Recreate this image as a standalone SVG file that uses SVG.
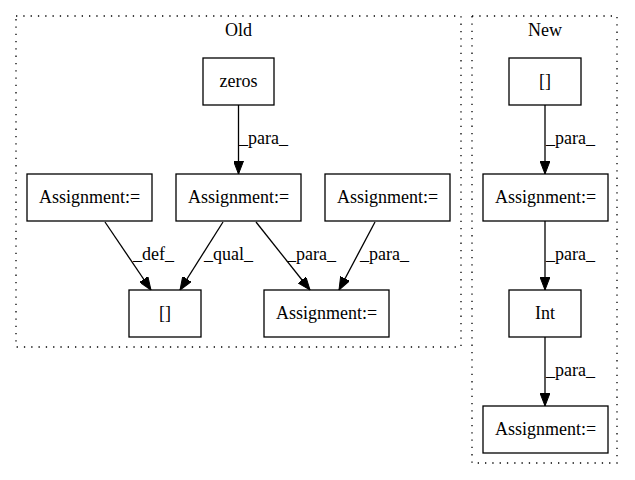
<svg xmlns="http://www.w3.org/2000/svg" width="635" height="480" viewBox="0 0 635 480">
<defs>
<marker id="ah" markerWidth="13" markerHeight="10" refX="13" refY="5" orient="auto" markerUnits="userSpaceOnUse">
<polygon points="0,0 13,5 0,10" fill="#000" stroke="#000"/>
</marker>
</defs>
<style>
text{font-family:"Liberation Serif","Times New Roman",serif;font-size:18px;fill:#000}
.n rect{fill:none;stroke:#000;stroke-width:1.3}
.n text{text-anchor:middle}
.c{fill:none;stroke:#000;stroke-width:1.3;stroke-dasharray:1.3,6}
.e path{fill:none;stroke:#000;stroke-width:1.3;marker-end:url(#ah)}
.t{text-anchor:middle}
</style>
<rect width="635" height="480" fill="#fff"/>
<g id="cluster_old">
<rect class="c" x="16" y="16" width="445" height="331"/>
<text class="t" x="238.5" y="36">Old</text>
</g>
<g id="cluster_new">
<rect class="c" x="472" y="16" width="145" height="447"/>
<text class="t" x="545" y="36">New</text>
</g>
<g id="old_zeros" class="n"><rect x="203" y="58" width="71" height="47"/><text x="238.5" y="87">zeros</text></g>
<g id="old_assign_mid" class="n"><rect x="176" y="174" width="125" height="47"/><text x="238.5" y="203">Assignment:=</text></g>
<g id="old_assign_left" class="n"><rect x="27" y="174" width="125" height="47"/><text x="89.5" y="203">Assignment:=</text></g>
<g id="old_assign_right" class="n"><rect x="325" y="174" width="125" height="47"/><text x="387.5" y="203">Assignment:=</text></g>
<g id="old_index" class="n"><rect x="129" y="290" width="72" height="47"/><text x="165" y="319">[]</text></g>
<g id="old_assign_bottom" class="n"><rect x="264" y="290" width="125" height="47"/><text x="326.5" y="319">Assignment:=</text></g>
<g id="new_index" class="n"><rect x="509" y="58" width="72" height="47"/><text x="545" y="87">[]</text></g>
<g id="new_assign1" class="n"><rect x="483" y="174" width="125" height="47"/><text x="545.5" y="203">Assignment:=</text></g>
<g id="new_int" class="n"><rect x="509" y="290" width="72" height="47"/><text x="545" y="319">Int</text></g>
<g id="new_assign2" class="n"><rect x="483" y="406" width="125" height="47"/><text x="545.5" y="435">Assignment:=</text></g>
<g id="edges" class="e">
<path d="M238.5,105 L238.5,174"/>
<text x="239" y="144">_para_</text>
<path d="M105,222 L151,290"/>
<text x="133" y="260">_def_</text>
<path d="M223,222 L180,290"/>
<text x="204" y="260">_qual_</text>
<path d="M256,222 L310,290"/>
<text x="287" y="260">_para_</text>
<path d="M375,222 L339,290"/>
<text x="360" y="260">_para_</text>
<path d="M545,105 L545,174"/>
<text x="546" y="144">_para_</text>
<path d="M545,221 L545,290"/>
<text x="546" y="260">_para_</text>
<path d="M545,337 L545,406"/>
<text x="546" y="376">_para_</text>
</g>
</svg>
